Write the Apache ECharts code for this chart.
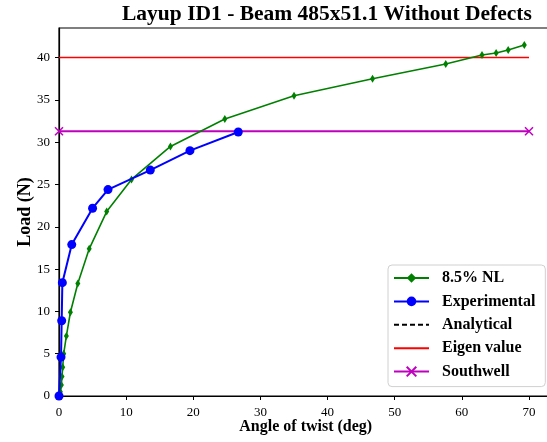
<!DOCTYPE html>
<html>
<head>
<meta charset="utf-8">
<script src="https://cdn.jsdelivr.net/npm/echarts@6/dist/echarts.min.js"></script>
<style>
  html, body { margin: 0; padding: 0; background: #fff; }
  #chart { width: 547px; height: 442px; }
</style>
</head>
<body>
<div id="chart"></div>
<script>
// Nonlinear FE result (8.5% NL): angle of twist (deg) and load (N)
const nlAngle = [0, 0.2, 0.35, 0.45, 0.55, 0.7, 1.1, 1.7, 2.8, 4.5, 7.1, 10.8, 16.6, 24.7, 35.0, 46.7, 57.6, 63.0, 65.1, 66.9, 69.3];
const nlLoad  = [0, 0.5, 1.3, 2.3, 3.4, 5.0, 7.1, 9.9, 13.3, 17.4, 21.8, 25.6, 29.5, 32.75, 35.5, 37.5, 39.25, 40.3, 40.55, 40.9, 41.5];

// Test measurements
const expAngle = [0, 0.3, 0.4, 0.5, 1.9, 5.0, 7.3, 13.6, 19.5, 26.7];
const expLoad  = [0, 4.6, 8.9, 13.4, 17.9, 22.2, 24.4, 26.7, 29.0, 31.2];

// Analytical curve (no points in this layup)
const analyticalAngle = [];
const analyticalLoad = [];

// Reference buckling loads, drawn across the angle range
const refAngle = [0, 70];
const eigenLoad = 40;
const southwellLoad = 31.3;

const xTicks = [0, 10, 20, 30, 40, 50, 60, 70];
const yTicks = [0, 5, 10, 15, 20, 25, 30, 35, 40];

const pairs = (xs, ys) => xs.map((x, i) => [x, ys[i]]);

const serif = '"Liberation Serif", "Times New Roman", serif';
const crossPath = 'path://M0,0L10,10M10,0L0,10';

const chart = echarts.init(document.getElementById('chart'), null, { renderer: 'canvas' });

chart.setOption({
  animation: false,
  backgroundColor: '#ffffff',
  title: {
    text: 'Layup ID1 - Beam 485x51.1 Without Defects',
    left: 122,
    top: 3,
    padding: 0,
    textStyle: { fontFamily: serif, fontWeight: 'bold', fontSize: 21.5, color: '#000' }
  },
  grid: {
    left: 59,
    top: 28,
    width: 493.5,
    height: 368,
    show: true,
    borderColor: '#000',
    borderWidth: 1.2,
    outerBoundsMode: 'none',
    containLabel: false
  },
  legend: {
    orient: 'vertical',
    left: 388,
    top: 265,
    padding: [5, 10, 7, 5],
    itemWidth: 35,
    itemHeight: 12,
    itemGap: 7.4,
    backgroundColor: 'rgba(255,255,255,0.85)',
    borderColor: '#d0d0d0',
    borderWidth: 1,
    borderRadius: 4,
    textStyle: { fontFamily: serif, fontWeight: 'bold', fontSize: 16, color: '#000', padding: [0, 0, 0, 8] },
    data: [
      '8.5% NL',
      'Experimental',
      { name: 'Analytical', itemStyle: { opacity: 0 } },
      { name: 'Eigen value', itemStyle: { opacity: 0 } },
      'Southwell'
    ]
  },
  xAxis: {
    type: 'value',
    min: 0,
    max: 73.5,
    interval: 10,
    name: 'Angle of twist (deg)',
    nameLocation: 'middle',
    nameGap: 23,
    nameMoveOverlap: false,
    nameTextStyle: { fontFamily: serif, fontWeight: 'bold', fontSize: 16, color: '#000' },
    axisLine: { show: true, onZero: false, lineStyle: { color: '#000', width: 1.2 } },
    axisTick: { show: true, inside: false, length: 4, lineStyle: { color: '#000', width: 1 }, customValues: xTicks },
    axisLabel: { fontFamily: serif, fontSize: 13, color: '#000', margin: 10, customValues: xTicks },
    splitLine: { show: false }
  },
  yAxis: {
    type: 'value',
    min: 0,
    max: 43.5,
    interval: 5,
    name: 'Load (N)',
    nameLocation: 'middle',
    nameGap: 25,
    nameMoveOverlap: false,
    nameRotate: 90,
    nameTextStyle: { fontFamily: serif, fontWeight: 'bold', fontSize: 18, color: '#000' },
    axisLine: { show: true, onZero: false, lineStyle: { color: '#000', width: 1.2 } },
    axisTick: { show: true, inside: false, length: 4, lineStyle: { color: '#000', width: 1 }, customValues: yTicks },
    axisLabel: { fontFamily: serif, fontSize: 13, color: '#000', margin: 9, customValues: yTicks },
    splitLine: { show: false }
  },
  series: [
    {
      name: '8.5% NL',
      type: 'line',
      data: pairs(nlAngle, nlLoad),
      symbol: 'diamond',
      symbolSize: [5, 8],
      showAllSymbol: true,
      itemStyle: { color: '#008000' },
      lineStyle: { color: '#008000', width: 1.6 },
      z: 3
    },
    {
      name: 'Experimental',
      type: 'line',
      data: pairs(expAngle, expLoad),
      symbol: 'circle',
      symbolSize: 9,
      showAllSymbol: true,
      itemStyle: { color: '#0000ff' },
      lineStyle: { color: '#0000ff', width: 2 },
      z: 4
    },
    {
      name: 'Analytical',
      type: 'line',
      data: pairs(analyticalAngle, analyticalLoad),
      symbol: 'none',
      itemStyle: { color: '#000' },
      lineStyle: { color: '#000', width: 2, type: [5, 3] }
    },
    {
      name: 'Eigen value',
      type: 'line',
      data: refAngle.map(a => [a, eigenLoad]),
      symbol: 'none',
      itemStyle: { color: '#ff0000' },
      lineStyle: { color: '#ff0000', width: 1.5 },
      z: 2
    },
    {
      name: 'Southwell',
      type: 'line',
      data: refAngle.map(a => [a, southwellLoad]),
      symbol: crossPath,
      symbolSize: 8,
      itemStyle: { color: '#bf00bf', borderColor: '#bf00bf', borderWidth: 1.5 },
      lineStyle: { color: '#bf00bf', width: 2 },
      z: 2
    }
  ]
});
</script>
</body>
</html>
